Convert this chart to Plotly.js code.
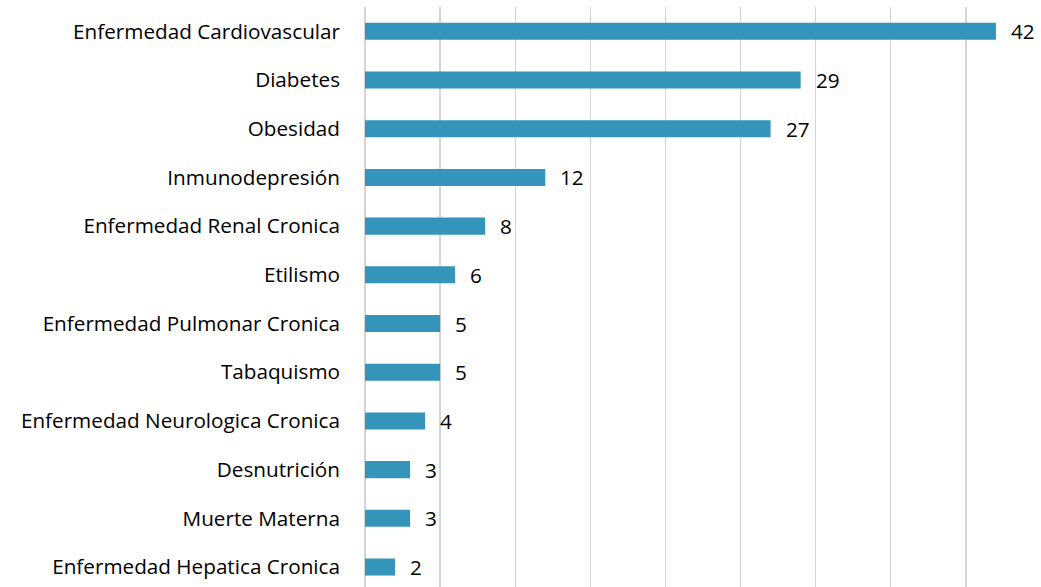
<!DOCTYPE html>
<html>
<head>
<meta charset="utf-8">
<script src="https://cdn.plot.ly/plotly-3.0.1.min.js"></script>
<style>
  html, body { margin: 0; padding: 0; background: #fff; }
  #chart { width: 1041px; height: 587px; }
</style>
</head>
<body>
<div id="chart"></div>
<script>
// Comorbidities (top to bottom as in the picture)
const categories = [
  'Enfermedad Cardiovascular',
  'Diabetes',
  'Obesidad',
  'Inmunodepresión',
  'Enfermedad Renal Cronica',
  'Etilismo',
  'Enfermedad Pulmonar Cronica',
  'Tabaquismo',
  'Enfermedad Neurologica Cronica',
  'Desnutrición',
  'Muerte Materna',
  'Enfermedad Hepatica Cronica'
];
const values = [42, 29, 27, 12, 8, 6, 5, 5, 4, 3, 3, 2];

const barColor = '#3494ba';
const labelFont = { family: '"Open Sans", Lato, sans-serif', size: 20.7, color: '#000000' };

const trace = {
  type: 'bar',
  orientation: 'h',
  x: values,
  y: categories,
  marker: { color: barColor },
  hoverinfo: 'x+y'
};

// value labels placed just right of each bar end
const valueLabels = values.map((v, i) => ({
  x: v,
  y: categories[i],
  text: String(v),
  showarrow: false,
  xanchor: 'left',
  xshift: 13,
  font: labelFont
}));

const layout = {
  width: 1041,
  height: 587,
  margin: { l: 365, r: 0, t: 7, b: 0 },
  paper_bgcolor: '#ffffff',
  plot_bgcolor: '#ffffff',
  showlegend: false,
  bargap: 0.65,
  xaxis: {
    range: [0, 45],
    dtick: 5,
    showgrid: true,
    gridcolor: '#d4d4d4',
    gridwidth: 1.3,
    zeroline: true,
    zerolinecolor: '#d4d4d4',
    zerolinewidth: 1.3,
    showticklabels: false,
    ticks: ''
  },
  yaxis: {
    type: 'category',
    range: [11.41, -0.5],
    showgrid: false,
    zeroline: false,
    ticks: '',
    ticklabelstandoff: 24,
    tickfont: labelFont
  },
  annotations: valueLabels
};

Plotly.newPlot('chart', [trace], layout, { displayModeBar: false, staticPlot: true });
</script>
</body>
</html>
